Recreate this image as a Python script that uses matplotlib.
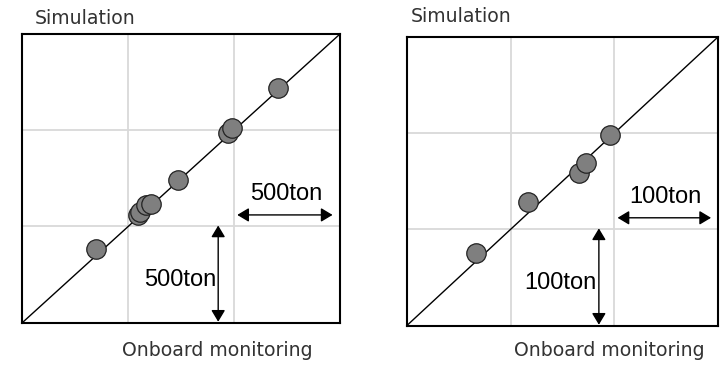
import matplotlib.pyplot as plt

# Simulated vs onboard-monitored values (ton), left: full range, right: small range
left_monitor = [346, 546, 555, 582, 606, 734, 969, 989, 1206]
left_sim = [382, 561, 577, 609, 618, 742, 987, 1013, 1222]
left_max = 1500
left_step = 500

right_monitor = [66.7, 117.1, 165.9, 172.9, 195.4]
right_sim = [75.2, 128.1, 158.2, 168.6, 198.3]
right_max = 300
right_step = 100

fig = plt.figure(figsize=(7.28, 3.65), dpi=100)
ax1 = fig.add_axes([0.0306, 0.1159, 0.4364, 0.7909])
ax2 = fig.add_axes([0.5587, 0.1077, 0.4280, 0.7918])


def panel(ax, xs, ys, vmax, step, unit_label):
    ax.set_xlim(0, vmax)
    ax.set_ylim(0, vmax)
    ticks = [step, 2 * step]
    ax.set_xticks(ticks)
    ax.set_yticks(ticks)
    ax.tick_params(length=0, labelbottom=False, labelleft=False)
    ax.grid(True, color='#d9d9d9', linewidth=1.3)
    ax.set_axisbelow(True)
    for s in ax.spines.values():
        s.set_linewidth(1.5)
        s.set_color('black')

    ax.plot([0, vmax], [0, vmax], color='black', linewidth=1.0, zorder=2)
    ax.plot(xs, ys, 'o', markersize=14, markerfacecolor='#7f7f7f',
            markeredgecolor='#222222', markeredgewidth=0.9, zorder=3)

    # scale arrows showing one grid division
    arrow = dict(arrowstyle='<|-|>,head_length=0.5,head_width=0.3',
                 color='black', linewidth=1.0,
                 mutation_scale=14, shrinkA=0, shrinkB=0)
    ax.annotate('', xy=(2 * step + 0.03 * step, 1.12 * step),
                xytext=(2.93 * step, 1.12 * step), arrowprops=arrow)
    ax.text(2.49 * step, 1.34 * step, unit_label, ha='center', va='center',
            fontsize=17, family='Liberation Sans')
    ax.annotate('', xy=(1.85 * step, 1.01 * step),
                xytext=(1.85 * step, 0.01 * step), arrowprops=arrow)
    ax.text(1.83 * step, 0.44 * step, unit_label, ha='right', va='center',
            fontsize=17, family='Liberation Sans')


panel(ax1, left_monitor, left_sim, left_max, left_step, '500ton')
panel(ax2, right_monitor, right_sim, right_max, right_step, '100ton')

label_style = dict(fontsize=13.6, color='#333333', va='center')
fig.text(35 / 728, 1 - 18 / 365, 'Simulation', ha='left', **label_style)
fig.text(411 / 728, 1 - 16 / 365, 'Simulation', ha='left', **label_style)
fig.text(217 / 728, 1 - 350 / 365, 'Onboard monitoring', ha='center', **label_style)
fig.text(609 / 728, 1 - 350 / 365, 'Onboard monitoring', ha='center', **label_style)

fig.savefig('out.png', dpi=100)
